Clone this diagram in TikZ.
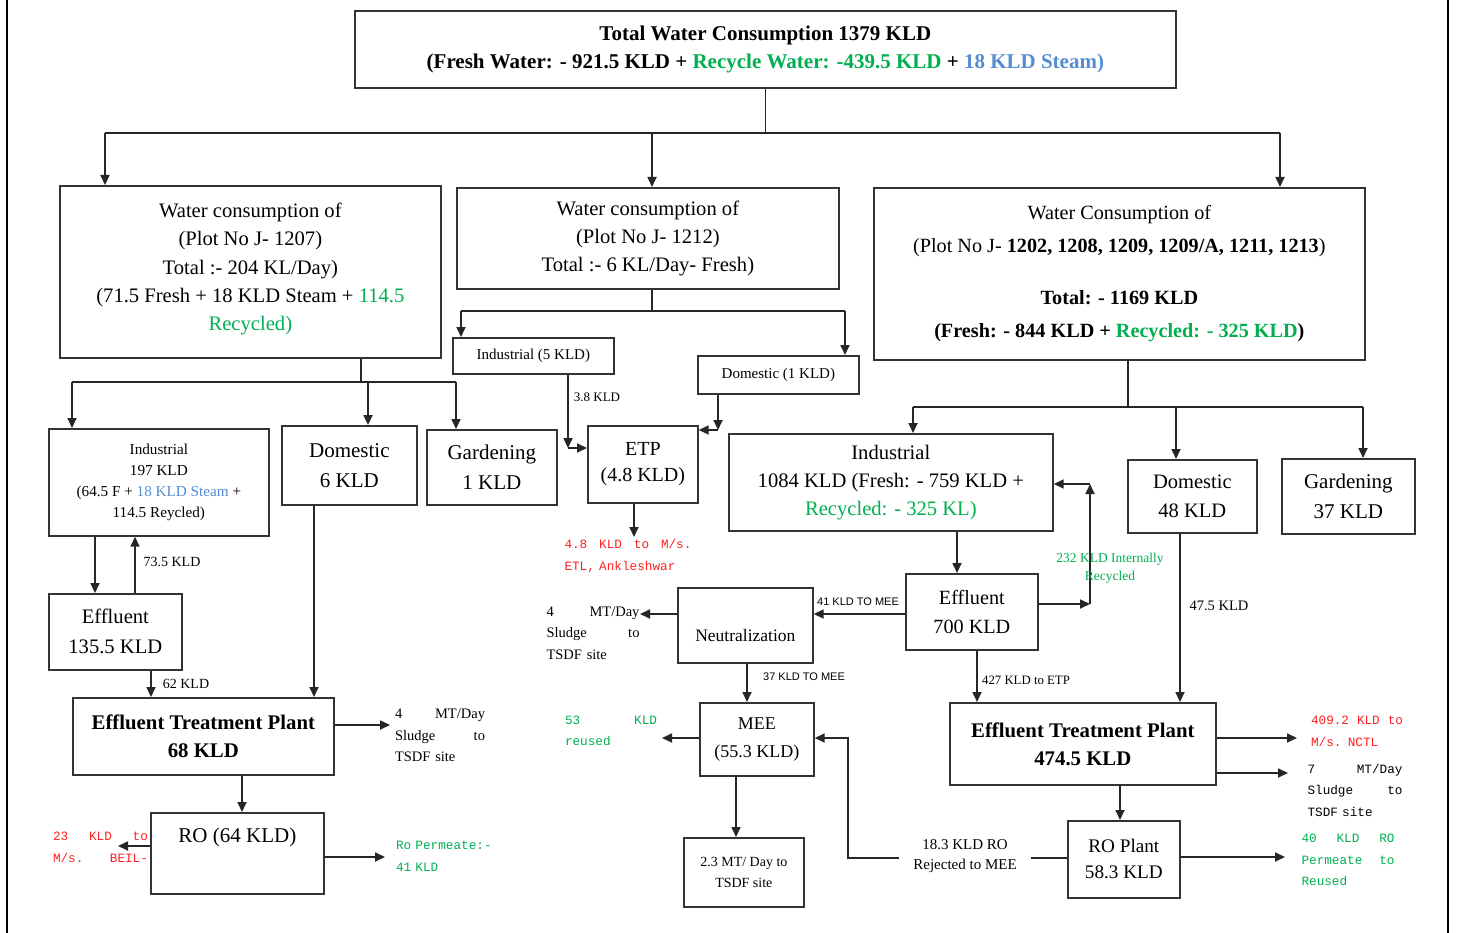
\documentclass[tikz,border=0pt]{standalone}
\usepackage{fontspec}
\setmainfont{Liberation Serif}
\setsansfont{Liberation Sans}
\setmonofont{Liberation Mono}
\usetikzlibrary{arrows.meta}
\definecolor{kred}{RGB}{255,32,32}
\definecolor{kgreen}{RGB}{0,176,80}
\definecolor{kblue}{RGB}{84,141,212}
\newcommand\fsz[2]{\fontsize{#1}{#2}\selectfont}

\begin{document}
\begin{tikzpicture}[x=1pt,y=-1pt,
  box/.style={draw=black!80, line width=1.7pt, inner sep=0pt, align=center, anchor=north west},
  conn/.style={line width=1.7pt, draw=black!85},
  arr/.style={conn, -{Triangle[length=10pt,width=9pt]}},
  lab/.style={inner sep=0pt, align=center},
  jlab/.style={inner sep=0pt, align=left},
  monolab/.style={jlab, font=\ttfamily\fsz{12.7}{21.5}},
]
\useasboundingbox[fill=white] (0,0) rectangle (1467,933);

% side rules of the page
\draw[line width=2.5pt] (7,0) -- (7,933);
\draw[line width=2.5pt] (1448,0) -- (1448,933);

% ---------- boxes ----------
\node[box, font=\bfseries\fsz{21}{28}, minimum width=821pt, minimum height=77pt] (top) at (354,10)
  {Total Water Consumption 1379 KLD\\
   (Fresh Water: - 921.5 KLD + \textcolor{kgreen}{Recycle Water: -439.5 KLD} + \textcolor{kblue}{18 KLD Steam)}};

\node[box, font=\fsz{20.6}{28.2}, minimum width=381pt, minimum height=172pt] (A) at (59,185)
  {Water consumption of\\(Plot No J- 1207)\\Total :- 204 KL/Day)\\
   (71.5 Fresh + 18 KLD Steam + \textcolor{kgreen}{114.5}\\\textcolor{kgreen}{Recycled)}\\[-18pt]\mbox{}};

\node[box, font=\fsz{20.6}{28}, minimum width=382pt, minimum height=101pt] (B) at (456,187)
  {Water consumption of\\(Plot No J- 1212)\\Total :- 6 KL/Day- Fresh)};

\node[box, font=\fsz{20.2}{33}, minimum width=491pt, minimum height=172pt] (C) at (873,187)
  {Water Consumption of\\(Plot No J- \textbf{1202, 1208, 1209, 1209/A, 1211, 1213})\\[19pt]
   \textbf{Total: - 1169 KLD}\\
   \textbf{(Fresh: - 844 KLD + \textcolor{kgreen}{Recycled: - 325 KLD})}};

% plot J-1207
\node[box, font=\fsz{15.2}{21.3}, minimum width=220pt, minimum height=107pt] (IndL) at (48,428)
  {Industrial\\197 KLD\\(64.5 F + \textcolor{kblue}{18 KLD Steam} +\\114.5 Reycled)};
\node[box, font=\fsz{21}{30}, minimum width=135pt, minimum height=79pt] (DomL) at (281,425)
  {Domestic\\6 KLD};
\node[box, font=\fsz{21}{30}, minimum width=130pt, minimum height=75pt] (GardL) at (426,429)
  {Gardening\\1 KLD};
\node[box, font=\fsz{20.6}{30}, minimum width=133pt, minimum height=76pt] (EffL) at (48,593)
  {Effluent\\135.5 KLD};
\node[box, font=\bfseries\fsz{20.8}{28}, minimum width=261pt, minimum height=77pt] (ETPL) at (72,697)
  {Effluent Treatment Plant\\68 KLD};
\node[box, font=\fsz{21}{28}, minimum width=173pt, minimum height=81pt, text height=14pt, text depth=35pt] (ROL) at (150,812)
  {RO (64 KLD)};

% plot J-1212
\node[box, font=\fsz{15}{20}, minimum width=161pt, minimum height=36pt] (Ind5) at (452,337)
  {Industrial (5 KLD)};
\node[box, font=\fsz{15}{20}, minimum width=161pt, minimum height=38pt] (Dom1) at (697,355)
  {Domestic (1 KLD)};
\node[box, font=\fsz{20}{26}, minimum width=110pt, minimum height=77pt] (ETP1) at (587,425)
  {ETP\\(4.8 KLD)};

% plots J-1202 ... J-1213
\node[box, font=\fsz{20.6}{28}, minimum width=324pt, minimum height=97pt] (IndR) at (728,433)
  {Industrial\\1084 KLD (Fresh: - 759 KLD +\\\textcolor{kgreen}{Recycled: - 325 KL)}};
\node[box, font=\fsz{20.5}{29}, minimum width=129pt, minimum height=73pt] (DomR) at (1127,459)
  {Domestic\\48 KLD};
\node[box, font=\fsz{21}{30}, minimum width=133pt, minimum height=75pt] (GardR) at (1281,458)
  {Gardening\\37 KLD};
\node[box, font=\fsz{20.2}{29}, minimum width=132pt, minimum height=76pt] (EffR) at (905,573)
  {Effluent\\700 KLD};
\node[box, font=\fsz{17.5}{22}, minimum width=135pt, minimum height=75pt, text height=37pt, text depth=4pt] (Neut) at (677,587)
  {Neutralization};
\node[box, font=\fsz{18}{28}, minimum width=114pt, minimum height=73pt] (MEE) at (699,702)
  {MEE\\(55.3 KLD)};
\node[box, font=\fsz{14}{21}, minimum width=120pt, minimum height=69pt] (TSDF) at (683,837)
  {2.3 MT/ Day to\\TSDF site};
\node[box, font=\bfseries\fsz{20.8}{28}, minimum width=266pt, minimum height=82pt] (ETPR) at (949,702)
  {Effluent Treatment Plant\\474.5 KLD};
\node[box, font=\fsz{19.2}{26}, minimum width=112pt, minimum height=77pt] (ROP) at (1067,820)
  {RO Plant\\58.3 KLD};

% ---------- top distribution ----------
\coordinate (tl) at (105,133);
\coordinate (tm) at (652,133);
\coordinate (tr) at (1280,133);
\draw[conn] (top.south) -- (top.south |- tl);
\draw[conn] (tl) -- (tr);
\draw[arr] (tl) -- (tl |- A.north);
\draw[arr] (tm) -- (tm |- B.north);
\draw[arr] (tr) -- (tr |- C.north);

% ---------- plot J-1207 ----------
\coordinate (aj) at (361,382);
\coordinate (al) at (72,382);
\coordinate (am) at (368,382);
\coordinate (ar) at (456,382);
\draw[conn] (aj |- A.south) -- (aj);
\draw[conn] (al) -- (ar);
\draw[arr] (al) -- (al |- IndL.north);
\draw[arr] (am) -- (am |- DomL.north);
\draw[arr] (ar) -- (ar |- GardL.north);

\draw[arr] (95,0 |- IndL.south) -- (95,0 |- EffL.north);
\draw[arr] (135,0 |- EffL.north) -- (135,0 |- IndL.south);
\node[lab, font=\fsz{14}{18}] (l735) at (172,562) {73.5 KLD};
\draw[arr] (151,0 |- EffL.south) -- (151,0 |- ETPL.north);
\node[lab, font=\fsz{14}{18}] (l62) at (186,684) {62 KLD};
\draw[arr] (314,0 |- DomL.south) -- (314,0 |- ETPL.north);

\coordinate (slL) at (390,725);
\draw[arr] (ETPL.east |- slL) -- (slL);
\node[jlab, text width=90pt, font=\fsz{14.5}{21.5}] (sludgeL) at (440,735.5)
  {4\hfill MT/Day\\Sludge\hfill to\\TSDF site};
\draw[arr] (242,0 |- ETPL.south) -- (242,0 |- ROL.north);

\coordinate (beil) at (118,846);
\draw[arr] (ROL.west |- beil) -- (beil);
\node[monolab, text width=95pt, text=kred, font=\ttfamily\fsz{12.7}{22}] (beilT) at (100.5,847)
  {23\hfill KLD\hfill to\\M/s.\hfill BEIL-};
\coordinate (perm) at (385,857);
\draw[arr] (ROL.east |- perm) -- (perm);
\node[monolab, text width=102pt, text=kgreen] (permT) at (447,856.5)
  {Ro Permeate:-\\41 KLD};

% ---------- plot J-1212 ----------
\coordinate (bj) at (652,311);
\coordinate (bl) at (461,311);
\coordinate (br) at (845,311);
\draw[conn] (bj |- B.south) -- (bj);
\draw[conn] (bl) -- (br);
\draw[arr] (bl) -- (bl |- Ind5.north);
\draw[arr] (br) -- (br |- Dom1.north);

\coordinate (i5c) at (568,448);
\draw[arr] (i5c |- Ind5.south) -- (i5c);
\draw[arr] (i5c) -- (ETP1.west |- i5c);
\node[lab, font=\fsz{13}{16}] (l38) at (597,397) {3.8 KLD};
\coordinate (d1c) at (718,430);
\draw[arr] (d1c |- Dom1.south) -- (d1c);
\draw[arr] (d1c) -- (ETP1.east |- d1c);

\coordinate (etl) at (634,537);
\draw[arr] (etl |- ETP1.south) -- (etl);
\node[monolab, text width=127pt, text=kred] (etlT) at (628,556)
  {4.8\hfill KLD\hfill to\hfill M/s.\\ETL, Ankleshwar};

% ---------- plots J-1202 ... J-1213 ----------
\coordinate (cj) at (1128,407);
\coordinate (cl) at (913,407);
\coordinate (cm) at (1176,407);
\coordinate (cr) at (1363,407);
\draw[conn] (cj |- C.south) -- (cj);
\draw[conn] (cl) -- (cr);
\draw[arr] (cl) -- (cl |- IndR.north);
\draw[arr] (cm) -- (cm |- DomR.north);
\draw[arr] (cr) -- (cr |- GardR.north);

\draw[arr] (957,0 |- IndR.south) -- (957,0 |- EffR.north);

\coordinate (rc1) at (1090,604);
\coordinate (rc2) at (1090,484);
\draw[arr] (EffR.east |- rc1) -- (rc1);
\draw[arr] (rc1) -- (rc2);
\draw[arr] (rc2) -- (IndR.east |- rc2);
\node[lab, text=kgreen, font=\fsz{13.5}{18}] (l232) at (1110,568) {232 KLD Internally\\Recycled};

\coordinate (n41) at (905,614);
\draw[arr] (n41) -- (Neut.east |- n41);
\node[lab, font=\sffamily\fsz{11}{14}] (l41) at (858,602) {41 KLD TO MEE};
\coordinate (nsl) at (640,614);
\draw[arr] (Neut.west |- nsl) -- (nsl);
\node[jlab, text width=93pt, font=\fsz{14.5}{21.5}] (sludgeM) at (593,633)
  {4\hfill MT/Day\\Sludge\hfill to\\TSDF site};

\draw[arr] (747,0 |- Neut.south) -- (747,0 |- MEE.north);
\node[lab, font=\sffamily\fsz{11}{14}] (l37) at (804,677) {37 KLD TO MEE};

\coordinate (reu) at (662,738);
\draw[arr] (MEE.west |- reu) -- (reu);
\node[monolab, text width=92pt, text=kgreen] (reuT) at (611,731)
  {53\hfill KLD\\reused};
\draw[arr] (736,0 |- MEE.south) -- (736,0 |- TSDF.north);

\coordinate (rj) at (848,858);
\draw[arr] (ROP.west |- rj) -- (rj) -- (rj |- 0,738) -- (MEE.east |- 0,738);
\node[lab, fill=white, inner xsep=14pt, inner ysep=1pt, font=\fsz{15}{20}] (rejT) at (965,856)
  {18.3 KLD RO\\Rejected to MEE};

\draw[arr] (977,0 |- EffR.south) -- (977,0 |- ETPR.north);
\node[lab, font=\fsz{12.8}{16}] (l427) at (1026,680) {427 KLD to ETP};
\draw[arr] (1180,0 |- DomR.south) -- (1180,0 |- ETPR.north);
\node[lab, font=\fsz{14.5}{18}] (l475) at (1219,606) {47.5 KLD};

\coordinate (nctl) at (1297,738);
\draw[arr] (ETPR.east |- nctl) -- (nctl);
\coordinate (sl7) at (1288,773);
\draw[arr] (ETPR.east |- sl7) -- (sl7);
\node[monolab, text width=92pt, text=kred, font=\ttfamily\fsz{12.7}{22}] (nctlT) at (1357,731)
  {409.2\hfill KLD\hfill to\\M/s. NCTL};
\node[monolab, text width=95pt] (sl7T) at (1355,790)
  {7\hfill MT/Day\\Sludge\hfill to\\TSDF site};

\draw[arr] (1120,0 |- ETPR.south) -- (1120,0 |- ROP.north);
\coordinate (r40) at (1285,857);
\draw[arr] (ROP.east |- r40) -- (r40);
\node[monolab, text width=93pt, text=kgreen] (r40T) at (1348,860)
  {40\hfill KLD\hfill RO\\Permeate\hfill to\\Reused};

\end{tikzpicture}
\end{document}
